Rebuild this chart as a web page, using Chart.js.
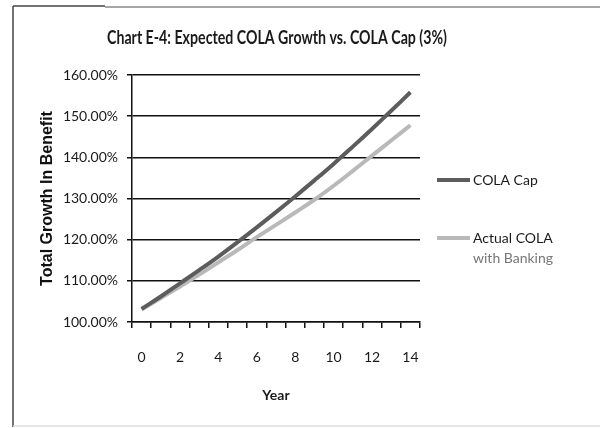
<!DOCTYPE html>
<html><head><meta charset="utf-8">
<script src="https://cdn.jsdelivr.net/npm/chart.js@4.4.0/dist/chart.umd.min.js"></script>
<style>html,body{margin:0;padding:0;background:#fff;}</style>
</head><body>
<canvas id="c" width="600" height="428"></canvas>
<script>
const years = [0,1,2,3,4,5,6,7,8,9,10,11,12,13,14];
const colaCap = [103.2,106.2,109.4,112.6,115.9,119.4,123.0,126.7,130.5,134.4,138.4,142.6,146.9,151.3,155.8];
const actualCola = [103.0,105.8,108.6,111.5,114.5,117.5,120.6,123.6,126.6,129.7,133.1,136.7,140.4,144.1,147.8];
const yTickValues = [100,110,120,130,140,150,160];
const seriesNames = ['COLA Cap','Actual COLA with Banking'];
const legendLines = [['COLA Cap'],['Actual COLA','with Banking']];
const titleText = 'Chart E-4: Expected COLA Growth vs. COLA Cap (3%)';

const lineColors = ['#5c5c5c','#b9b9b9'];
const legendTextColors = [['#1a1a1a'],['#1a1a1a','#777']];
const FONT = 'Lato, "Liberation Sans", sans-serif';

const framePlugin = {
  id:'frame',
  beforeDraw(chart){
    const ctx = chart.ctx;
    ctx.save();
    ctx.fillStyle = '#fff';
    ctx.fillRect(0,0,chart.width,chart.height);
    ctx.lineWidth = 1.5;
    ctx.strokeStyle = '#444';
    ctx.beginPath(); ctx.moveTo(13,6); ctx.lineTo(13,427); ctx.stroke();
    ctx.beginPath(); ctx.moveTo(13,6); ctx.lineTo(105,6); ctx.stroke();
    ctx.strokeStyle = '#888';
    ctx.beginPath(); ctx.moveTo(105,7); ctx.lineTo(600,7); ctx.stroke();
    ctx.strokeStyle = '#ddd';
    ctx.beginPath(); ctx.moveTo(13,426); ctx.lineTo(600,426); ctx.stroke();
    ctx.restore();
  }
};

const titlePlugin = {
  id:'customTitle',
  afterDraw(chart){
    const ctx = chart.ctx;
    ctx.save();
    ctx.font = 'bold 18px ' + FONT;
    const w = ctx.measureText(titleText).width;
    const sx = Math.min(1, 340 / w);
    ctx.translate(277, 38);
    ctx.scale(sx, 1);
    ctx.fillStyle = '#1a1a1a';
    ctx.textAlign = 'center';
    ctx.textBaseline = 'middle';
    ctx.fillText(titleText, 0, 0);
    ctx.restore();
  }
};

const legendPlugin = {
  id:'customLegend',
  afterDraw(chart){
    const ctx = chart.ctx;
    const ys = [180, 238];
    ctx.save();
    chart.data.datasets.forEach((ds,i)=>{
      const y = ys[i];
      ctx.strokeStyle = ds.borderColor;
      ctx.lineWidth = 4;
      ctx.lineCap = 'butt';
      ctx.beginPath(); ctx.moveTo(437,y); ctx.lineTo(470,y); ctx.stroke();
      ctx.font = '14px ' + FONT;
      ctx.textBaseline = 'middle';
      ctx.textAlign = 'left';
      legendLines[i].forEach((t,j)=>{
        ctx.fillStyle = legendTextColors[i][j];
        ctx.fillText(t, 473, y + j*20);
      });
    });
    ctx.restore();
  }
};

new Chart(document.getElementById('c'), {
  type:'line',
  data:{
    labels: years,
    datasets:[
      {label:seriesNames[0], data:colaCap, borderColor:lineColors[0], borderWidth:4, pointRadius:0, tension:0.4, fill:false},
      {label:seriesNames[1], data:actualCola, borderColor:lineColors[1], borderWidth:4, pointRadius:0, tension:0.4, fill:false}
    ]
  },
  options:{
    responsive:false,
    animation:false,
    layout:{padding:{left:38,right:180,top:75,bottom:0}},
    plugins:{
      legend:{display:false},
      tooltip:{enabled:false},
      title:{display:false}
    },
    scales:{
      x:{
        type:'category',
        offset:true,
        grid:{offset:true,drawOnChartArea:false,drawTicks:true,tickLength:6,color:'#111',lineWidth:1.5},
        border:{color:'#111',width:1.5},
        ticks:{autoSkip:false,maxRotation:0,padding:21,color:'#1a1a1a',
          font:{family:FONT,size:14},
          callback:(v,i)=> i%2===0 ? String(years[i]) : ''},
        title:{display:true,text:'Year',color:'#1a1a1a',
          font:{family:FONT,size:14,weight:'bold'},
          padding:{top:0,bottom:24}},
        afterFit:(s)=>{ s.height = 106; }
      },
      y:{
        min:100,max:160,
        afterBuildTicks:(s)=>{ s.ticks = yTickValues.map(v=>({value:v})); },
        grid:{color:'#111',lineWidth:1.5,tickLength:5},
        border:{color:'#111',width:1.5},
        ticks:{padding:9,color:'#1a1a1a',
          font:{family:FONT,size:14},
          callback:(v)=> Number(v).toFixed(2)+'%'},
        title:{display:true,text:'Total Growth In Benefit',color:'#111',
          font:{family:'"Liberation Sans", Arial, sans-serif',size:16,weight:'bold'},
          padding:{top:0,bottom:0}},
        afterFit:(s)=>{ s.width = 94; }
      }
    }
  },
  plugins:[framePlugin, titlePlugin, legendPlugin]
});
</script>
</body></html>
